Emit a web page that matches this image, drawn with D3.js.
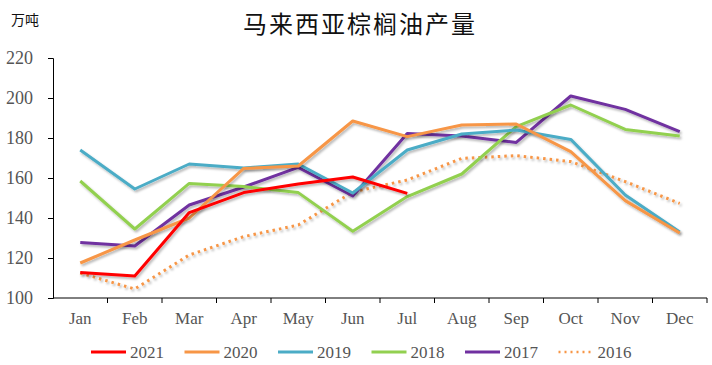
<!DOCTYPE html>
<html><head><meta charset="utf-8">
<script src="https://cdn.jsdelivr.net/npm/d3@7"></script>
<style>body{margin:0;background:#fff}svg{display:block}</style>
</head><body>
<svg id="c" width="712" height="365"></svg>
<script>
const months = ["Jan","Feb","Mar","Apr","May","Jun","Jul","Aug","Sep","Oct","Nov","Dec"];
const yTicks = [100,120,140,160,180,200,220];
const years = ["2021","2020","2019","2018","2017","2016"];
const v2021 = [112.8,111,142.7,152.7,157,160.5,152.3];
const v2020 = [117.5,129,140,164.8,166,188.5,180.7,186.5,187,173.2,148.7,132.5];
const v2019 = [174,154.5,167,165,167,152.5,174,182,184,179.3,151.5,133];
const v2018 = [158.5,134.5,157.3,155.7,152.7,133.4,150.7,162,185.7,196.5,184.3,181];
const v2017 = [127.8,126,146.5,155.5,165.3,151,182.3,181,177.8,201,194.3,183.2];
const v2016 = [112.5,104.5,121.5,130.7,136.5,153,159,169.8,171.2,168.2,158.2,147.3];
const seriesValues = [v2021,v2020,v2019,v2018,v2017,v2016];
const colors = ["#FF0000","#F79646","#4BACC6","#92D050","#7030A0","#F79646"];
const dashed = [false,false,false,false,false,true];

const svg = d3.select("#c");
const m = {l:53};
const x = d3.scaleBand().domain(months).range([m.l, 707]);
const y = d3.scaleLinear().domain([100,220]).range([298, 58]);

const defs = svg.append("defs");
const f = defs.append("filter").attr("id","sh").attr("x","-10%").attr("y","-10%").attr("width","120%").attr("height","130%");
f.append("feDropShadow").attr("dx",1.5).attr("dy",2).attr("stdDeviation",1.2).attr("flood-color","#000").attr("flood-opacity",0.28);

// title
svg.append("text").attr("x",360).attr("y",33).attr("text-anchor","middle")
  .attr("font-family","'Noto Sans CJK SC'").attr("font-size",24).attr("letter-spacing",2).attr("fill","#111").text("马来西亚棕榈油产量");
svg.append("text").attr("x",11).attr("y",25)
  .attr("font-family","'Noto Sans CJK SC'").attr("font-size",14).attr("fill","#111").text("万吨");

// axes
const yAxis = svg.append("g").attr("transform",`translate(${m.l},0)`)
  .call(d3.axisLeft(y).tickValues(yTicks).tickSize(5).tickPadding(15));
yAxis.selectAll("text").attr("font-family","'Liberation Serif'").attr("font-size",18).attr("fill","#555");
yAxis.selectAll("line,path").attr("stroke","#000");

const xAxis = svg.append("g").attr("transform",`translate(0,298)`)
  .call(d3.axisBottom(x).tickSize(0).tickPadding(14));
xAxis.select("path").attr("stroke","#000").attr("d",`M${m.l},0H707`);
xAxis.selectAll("text").attr("font-family","'Liberation Serif'").attr("font-size",17).attr("fill","#555").attr("dy","0.71em");
// band boundary ticks
svg.append("g").selectAll("line").data(months.slice(1).concat(["_end"])).join("line")
  .attr("x1",(d,i)=> i<11 ? x(d) : x.range()[1]).attr("x2",(d,i)=> i<11 ? x(d) : x.range()[1])
  .attr("y1",298).attr("y2",303).attr("stroke","#000");

const line = d3.line().x((d,i)=>x(months[i])+x.bandwidth()/2).y(d=>y(d));
const g = svg.append("g");
for (let k = seriesValues.length-1; k>=0; k--) {
  g.append("path").datum(seriesValues[k]).attr("d",line).attr("fill","none")
    .attr("stroke",colors[k]).attr("stroke-width",3)
    .attr("stroke-dasharray", dashed[k]?"2.5,4":null)
    .attr("stroke-linejoin","round")
    .attr("filter","url(#sh)");
}

// legend
const lg = svg.append("g");
years.forEach((yr,i)=>{
  const lx = 91 + i*93.5;
  lg.append("line").attr("x1",lx).attr("x2",lx+35).attr("y1",352).attr("y2",352)
    .attr("stroke",colors[i]).attr("stroke-width",dashed[i]?2.5:3)
    .attr("stroke-dasharray",dashed[i]?"2,4":null);
  lg.append("text").attr("x",lx+39).attr("y",358).attr("font-family","'Liberation Serif'")
    .attr("font-size",17).attr("fill","#555").text(yr);
});
</script>
</body></html>
